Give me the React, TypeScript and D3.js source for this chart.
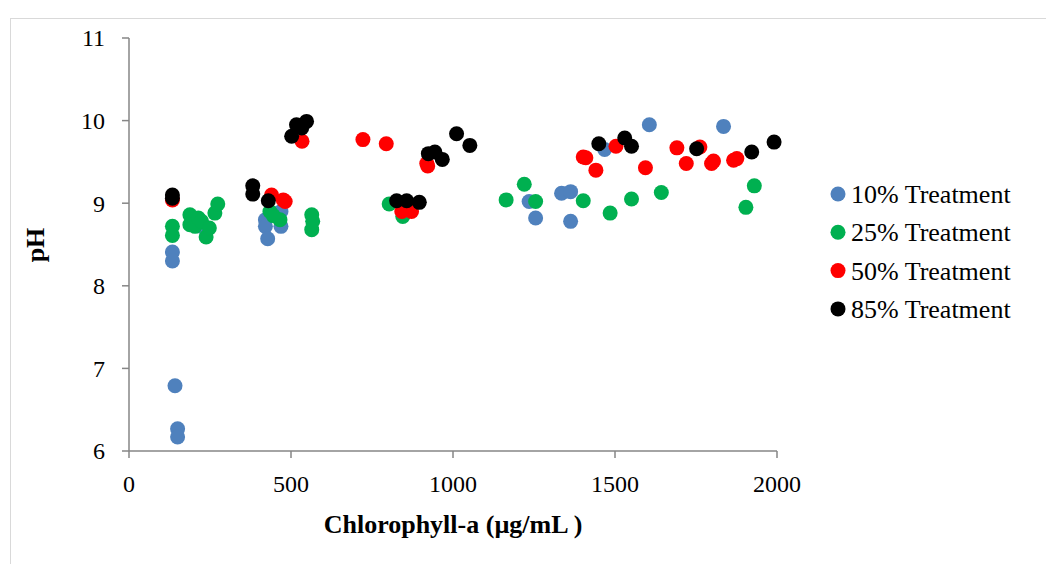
import React from "react";
import * as d3 from "d3";

const xTicks = [0, 500, 1000, 1500, 2000];
const yTicks = [6, 7, 8, 9, 10, 11];

const seriesNames = ["10% Treatment", "25% Treatment", "50% Treatment", "85% Treatment"];
const seriesColors = ["#4f81bd", "#00b050", "#ff0000", "#000000"];

const t10x = [134, 134, 142, 150, 150, 421, 421, 428, 469, 469, 225, 1235, 1255, 1335, 1363, 1363, 1468, 1606, 1835];
const t10y = [8.41, 8.3, 6.79, 6.27, 6.17, 8.8, 8.72, 8.57, 8.9, 8.72, 8.72, 9.02, 8.82, 9.12, 9.14, 8.78, 9.65, 9.95, 9.93];

const t25x = [134, 134, 188, 188, 204, 214, 224, 238, 248, 265, 274, 435, 466, 445, 564, 564, 567, 803, 845, 1164, 1220, 1255, 1402, 1485, 1551, 1643, 1904, 1930];
const t25y = [8.72, 8.61, 8.86, 8.74, 8.72, 8.82, 8.78, 8.59, 8.7, 8.88, 8.99, 8.9, 8.8, 8.85, 8.86, 8.68, 8.78, 8.99, 8.84, 9.04, 9.23, 9.02, 9.03, 8.88, 9.05, 9.13, 8.95, 9.21];

const t50x = [134, 440, 476, 482, 534, 722, 794, 842, 872, 919, 922, 1402, 1410, 1441, 1503, 1594, 1691, 1720, 1762, 1798, 1804, 1866, 1876];
const t50y = [9.04, 9.1, 9.04, 9.02, 9.75, 9.77, 9.72, 8.9, 8.9, 9.48, 9.45, 9.56, 9.55, 9.4, 9.69, 9.43, 9.67, 9.48, 9.68, 9.48, 9.51, 9.52, 9.54];

const t85x = [134, 134, 382, 382, 430, 502, 517, 533, 548, 826, 857, 896, 924, 944, 967, 1011, 1052, 1450, 1530, 1551, 1752, 1922, 1991];
const t85y = [9.1, 9.06, 9.21, 9.11, 9.03, 9.81, 9.95, 9.91, 9.99, 9.03, 9.03, 9.01, 9.6, 9.62, 9.53, 9.84, 9.7, 9.72, 9.79, 9.69, 9.66, 9.62, 9.74];

const seriesX = [t10x, t25x, t50x, t85x];
const seriesY = [t10y, t25y, t50y, t85y];

export default function App() {
  const W = 1046;
  const H = 564;
  const x = d3.scaleLinear().domain([0, 2000]).range([129, 777]);
  const y = d3.scaleLinear().domain([6, 11]).range([451, 38]);
  const font = "'Liberation Serif', 'Times New Roman', serif";
  const axisColor = "#868686";

  return (
    <svg width={W} height={H} style={{ position: "absolute", left: 0, top: 0 }} fontFamily={font}>
      <rect x={0} y={0} width={W} height={H} fill="#fff" />
      <rect x={10.5} y={18.5} width={W + 20} height={H + 20} fill="none" stroke="#d9d9d9" strokeWidth={1} />
      {/* axes */}
      <line x1={x(0)} x2={x(0)} y1={y(11)} y2={y(6)} stroke={axisColor} strokeWidth={1.5} />
      <line x1={x(0)} x2={x(2000)} y1={y(6)} y2={y(6)} stroke={axisColor} strokeWidth={1.5} />
      {yTicks.map((t) => (
        <g key={"y" + t}>
          <line x1={x(0) - 7} x2={x(0)} y1={y(t)} y2={y(t)} stroke={axisColor} strokeWidth={1.5} />
          <text x={x(0) - 24} y={y(t)} dy="0.35em" textAnchor="end" fontSize={24} fill="#000">
            {t}
          </text>
        </g>
      ))}
      {xTicks.map((t) => (
        <g key={"x" + t}>
          <line x1={x(t)} x2={x(t)} y1={y(6)} y2={y(6) + 7} stroke={axisColor} strokeWidth={1.5} />
          <text x={x(t)} y={y(6) + 41} textAnchor="middle" fontSize={24} fill="#000">
            {t}
          </text>
        </g>
      ))}
      {/* points */}
      {seriesX.map((xs, si) =>
        xs.map((xv, i) => (
          <circle key={si + "-" + i} cx={x(xv)} cy={y(seriesY[si][i])} r={7.5} fill={seriesColors[si]} />
        ))
      )}
      {/* axis titles */}
      <text x={453} y={533} textAnchor="middle" fontSize={26} fontWeight="bold" fill="#000">
        Chlorophyll-a (µg/mL )
      </text>
      <text transform="translate(44,245) rotate(-90)" textAnchor="middle" fontSize={26} fontWeight="bold" fill="#000">
        pH
      </text>
      {/* legend */}
      {seriesNames.map((n, i) => (
        <g key={n}>
          <circle cx={838} cy={194 + i * 38.3} r={7.5} fill={seriesColors[i]} />
          <text x={851} y={194 + i * 38.3} dy="0.35em" fontSize={26} fill="#000">
            {n}
          </text>
        </g>
      ))}
    </svg>
  );
}
